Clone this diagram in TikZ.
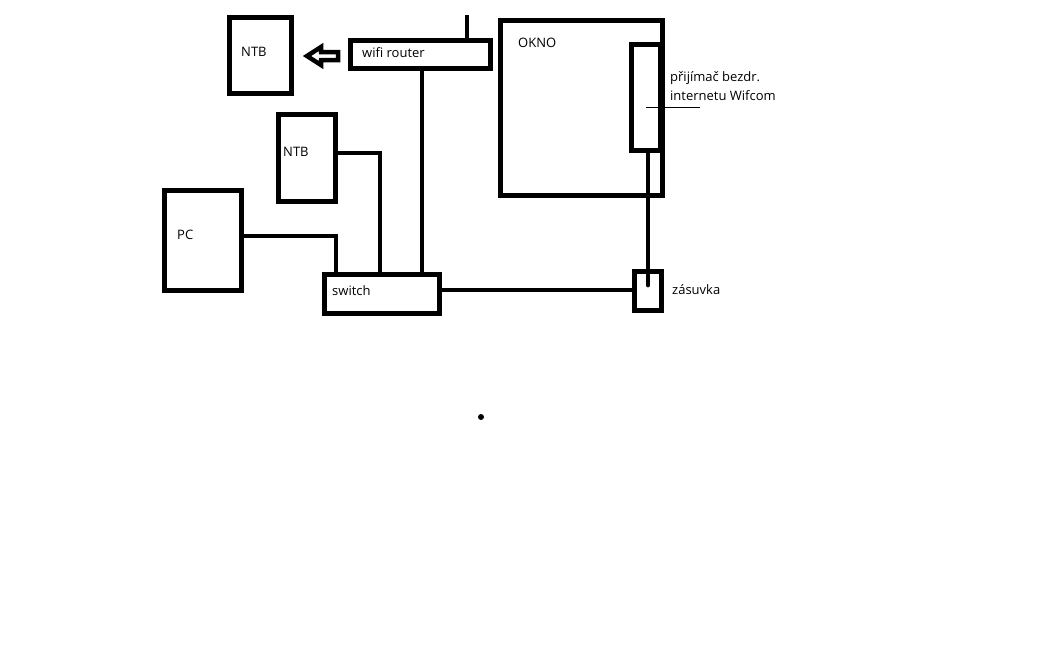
\documentclass[tikz,border=0pt]{standalone}
\usepackage{fontspec}
\setmainfont{Open Sans}
\usepackage{tikz}

\begin{document}
\begin{tikzpicture}[x=1pt,y=-1pt,
  box/.style={shape=rectangle,draw=black,line width=5pt,inner sep=0pt},
  wire/.style={-,line width=4.8pt,black},
  txt/.style={anchor=west,inner sep=0pt,font=\fontsize{13}{15}\selectfont}]

\useasboundingbox[fill=white] (0,0) rectangle (1050,649);

%% boxes

\node[box, minimum width=62pt, minimum height=76pt] (ntbA) at (260,55) {};
\node[box, minimum width=140pt, minimum height=28pt] (router) at (420.5,54.5) {};
\node[box, minimum width=162pt, minimum height=175pt] (okno) at (581.5,108) {};
\node[box, minimum width=29pt, minimum height=106pt] (rx) at (646,97.5) {};
\node[box, minimum width=57pt, minimum height=87pt] (ntbB) at (307,158) {};
\node[box, minimum width=77pt, minimum height=100pt] (pc) at (203,240.5) {};
\node[box, minimum width=115pt, minimum height=39pt] (switch) at (382,294) {};
\node[box, minimum width=27pt, minimum height=39pt] (zas) at (648,291) {};

%% texts

\node[txt] (ntbA-t) at (241,52) {NTB};
\node[txt] (router-t) at (362,53) {wifi router};
\node[txt] (okno-t) at (518,43) {OKNO};
\node[txt] (rx-t1) at (670,78) {přijímač bezdr.};
\node[txt] (rx-t2) at (670,96) {internetu Wifcom};
\node[txt] (ntbB-t) at (283,152) {NTB};
\node[txt] (pc-t) at (177,235) {PC};
\node[txt] (switch-t) at (332,291) {switch};
\node[txt] (zas-t) at (672,290) {zásuvka};

%% lines

\coordinate (ant) at (467,15);
\draw[wire] (ant) -- (ant |- router.north);
\draw[wire] ([xshift=1.5pt]router.south) -- ([xshift=1.5pt]router.south |- switch.north);
\draw[wire] ([yshift=5pt]ntbB.east) -| ([xshift=-2pt]switch.north);
\draw[wire] ([yshift=4.5pt]pc.east) -| ([xshift=-46pt]switch.north);
\draw[wire] ([yshift=4pt]switch.east) -- ([yshift=4pt,xshift=2pt]switch.east -| zas.west);
\draw[wire, line cap=round] (zas.center |- rx.south) -- ([yshift=6pt]zas.center);

%% thin line
\coordinate (rx-a) at (646,107);
\coordinate (rx-b) at (700,107);
\draw[line width=1pt] (rx-a) -- (rx-b);

%% arrow
\draw[line width=4.5pt, line join=miter, fill=white] (307,56) -- (321,47) -- (321,52) -- (338,52) -- (338,60) -- (321,60) -- (321,65) -- cycle;

%% dot
\node[shape=circle, fill=black, inner sep=0pt, minimum size=6pt] (dot) at (481,417) {};

\end{tikzpicture}
\end{document}
